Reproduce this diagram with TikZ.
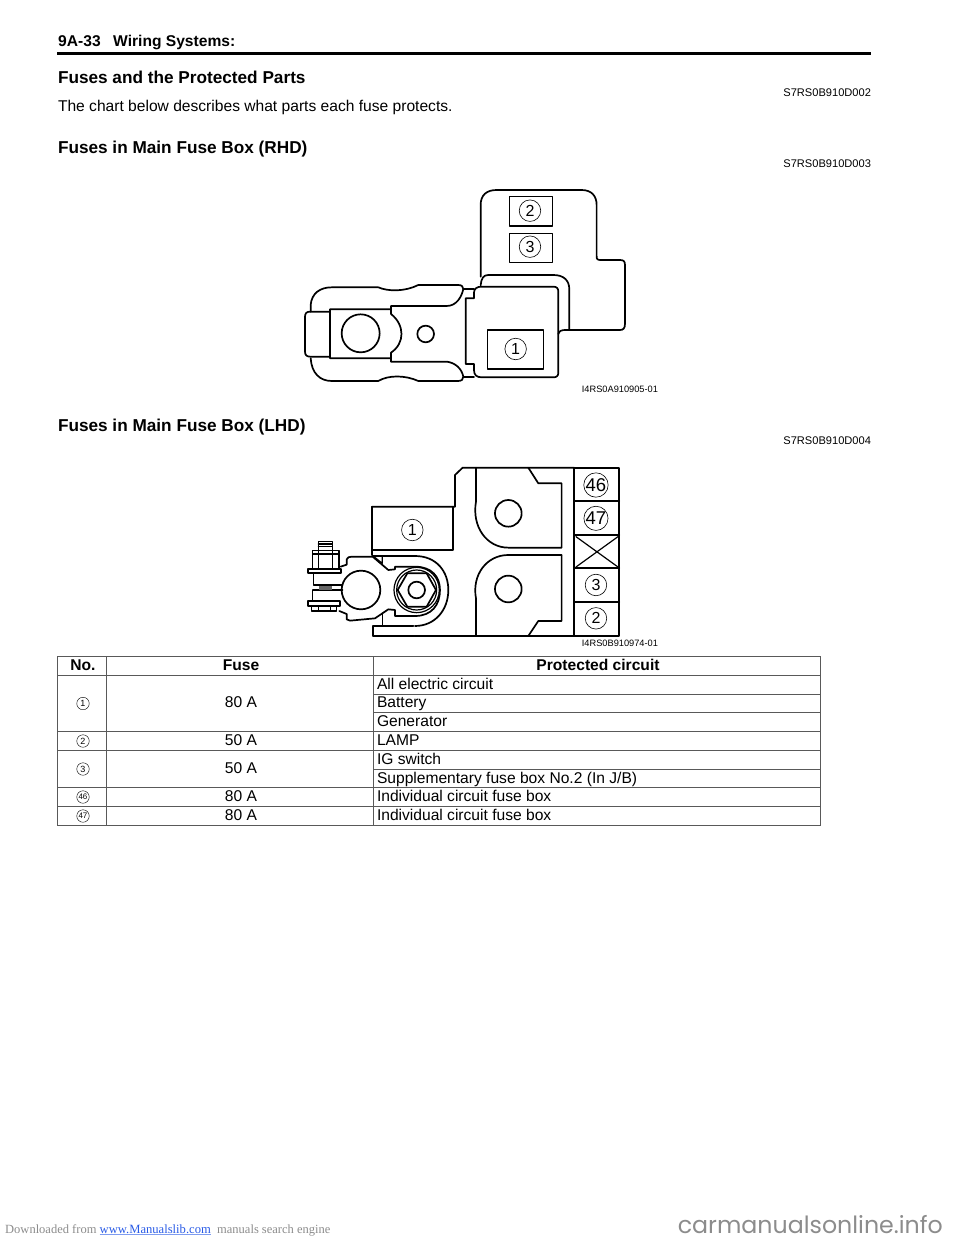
\documentclass[tikz,border=0pt]{standalone}
\usepackage{fontspec}
\setmainfont{Liberation Sans}
\newfontfamily\serifface{Liberation Serif}
\newfontfamily\openface{Poppins}
\definecolor{tabline}{gray}{0.35}
\definecolor{footgray}{gray}{0.55}
\definecolor{linkblue}{RGB}{40,90,230}
\tikzset{
  txt/.style={anchor=base west,inner sep=0pt,outer sep=0pt,font=\fontsize{15.6}{15.6}\selectfont},
  headtxt/.style={anchor=base west,inner sep=0pt,outer sep=0pt,font=\fontsize{17.2}{17.2}\selectfont\bfseries},
  codetxt/.style={anchor=base east,inner sep=0pt,outer sep=0pt,font=\fontsize{11.1}{11.1}\selectfont},
  captxt/.style={anchor=base east,inner sep=0pt,outer sep=0pt,font=\fontsize{9.25}{9.25}\selectfont},
  celltxt/.style={anchor=base west,inner sep=0pt,outer sep=0pt,font=\fontsize{15.6}{15.6}\selectfont},
  cellmid/.style={anchor=base,inner sep=0pt,outer sep=0pt,font=\fontsize{15.6}{15.6}\selectfont},
  cellhead/.style={anchor=base,inner sep=0pt,outer sep=0pt,font=\fontsize{15.6}{15.6}\selectfont\bfseries},
  bignum/.style={circle,draw,line width=.6pt,minimum size=21.5pt,inner sep=0pt,font=\fontsize{16}{16}\selectfont},
  widenum/.style={circle,draw,line width=.6pt,minimum size=22.5pt,inner sep=0pt,font=\fontsize{18.5}{18.5}\selectfont},
  smallnum/.style={circle,draw,line width=.4pt,minimum size=12.5pt,inner sep=0pt,font=\fontsize{9}{9}\selectfont},
  tinynum/.style={circle,draw,line width=.4pt,minimum size=12.5pt,inner sep=0pt,font=\fontsize{8}{8}\selectfont},
  heavy/.style={line width=1.7pt,line join=round,line cap=round},
  medium/.style={line width=1.2pt,line join=round,line cap=round},
  fine/.style={line width=.8pt,line join=round},
  grid/.style={line width=1pt,color=tabline},
}
\begin{document}
\begin{tikzpicture}[x=1pt,y=-1pt]
\useasboundingbox (0,0) rectangle (960,1242);
% page header
\node[anchor=base west,inner sep=0pt,font=\fontsize{15.6}{15.6}\selectfont\bfseries] (pagehead) at (58,46) {9A-33\hspace{.8em}Wiring Systems:};
\draw[line width=3pt] (57,53) -- (871,53);
\node[headtxt] (h1) at (58,83) {Fuses and the Protected Parts};
\node[codetxt] (c1) at (871,96) {S7RS0B910D002};
\node[txt] (body) at (58,111.5) {The chart below describes what parts each fuse protects.};
\node[headtxt] (h2) at (58,153) {Fuses in Main Fuse Box (RHD)};
\node[codetxt] (c2) at (871,167) {S7RS0B910D003};
\node[headtxt] (h3) at (58,431) {Fuses in Main Fuse Box (LHD)};
\node[codetxt] (c3) at (871,444) {S7RS0B910D004};

% RHD diagram (coordinates of the 3x crop)
\begin{scope}[shift={(290,180)},x=0.3333pt,y=-0.3333pt]
\draw[heavy] (572,290) -- (572,75) .. controls (572,45) and (590,30) .. (620,30) -- (875,30) .. controls (905,30) and (920,48) .. (920,75) -- (920,228) .. controls (920,238) and (922,240) .. (932,240) -- (990,240) .. controls (1002,240) and (1005,245) .. (1005,255) -- (1005,432) .. controls (1005,445) and (1000,450) .. (990,450) -- (828,450) .. controls (815,450) and (808,452) .. (805,462);
\draw[heavy] (572,316) .. controls (574,295) and (580,285) .. (595,285) -- (790,285) .. controls (820,285) and (838,300) .. (838,328) -- (838,450);
\draw[heavy] (527,355) -- (552,355) -- (552,338) .. controls (552,325) and (562,320) .. (575,320) -- (790,320) .. controls (800,320) and (805,325) .. (805,335) -- (805,578) .. controls (805,588) and (800,592) .. (790,592) -- (575,592) .. controls (560,592) and (552,585) .. (552,570) -- (552,552) -- (527,552) -- cycle;
\draw[heavy] (62,395) -- (62,375) .. controls (65,340) and (90,322) .. (125,322) -- (265,322) .. controls (295,335) and (345,335) .. (385,315) -- (505,315) .. controls (515,315) and (520,320) .. (520,327) .. controls (515,350) and (500,378) .. (470,378) -- (303,378) -- (303,388) -- (120,388) -- (120,535) -- (303,535);
\draw[heavy] (303,388) -- (303,402) .. controls (345,435) and (345,490) .. (303,518) -- (303,545) -- (470,545) .. controls (495,548) and (515,565) .. (520,590) .. controls (520,598) and (515,603) .. (505,603) -- (385,603) .. controls (345,585) and (295,585) .. (265,603) -- (125,603) .. controls (90,603) and (65,580) .. (62,535);
\draw[heavy] (120,395) -- (60,395) .. controls (50,395) and (45,400) .. (45,410) -- (45,515) .. controls (45,525) and (50,530) .. (60,530) -- (120,530);
\draw[heavy] (520,327) -- (552,327) (520,590) -- (552,590);
\draw[heavy] (212,460) circle (57);
\draw[heavy] (407,462) circle (25);
\draw[medium] (658,50) rectangle (787,138);
\draw[medium] (658,160) rectangle (787,247);
\draw[medium] (592,450) rectangle (760,567);
\node[bignum] (r2) at (720,92) {2};
\node[bignum] (r3) at (720,200) {3};
\node[bignum] (r1) at (677,507) {1};
\end{scope}
\node[captxt] (cap1) at (658,392) {I4RS0A910905-01};

% LHD diagram
\begin{scope}[shift={(290,455)},x=0.3333pt,y=-0.3333pt]
\draw[heavy] (853,38) rectangle (988,543);
\foreach \yy in {138,240,340,440} \draw[heavy] (853,\yy) -- (988,\yy);
\draw[medium] (858,245) -- (984,336) (984,245) -- (858,336);
\draw[heavy] (247,155) -- (495,155) -- (495,60) -- (518,38) -- (853,38);
\draw[heavy] (247,155) -- (247,300);
\draw[heavy] (247,285) -- (490,285) -- (490,155);
\draw[heavy] (558,38) -- (558,140) .. controls (545,215) and (590,278) .. (655,278) -- (815,278) -- (815,85) -- (745,85) -- (715,38);
\draw[heavy] (815,300) -- (655,300) .. controls (590,300) and (545,360) .. (558,430) -- (558,543);
\draw[heavy] (815,300) -- (815,498) -- (745,498) -- (715,543);
\draw[heavy] (655,175) circle (40);
\draw[heavy] (655,402) circle (40);
\draw[heavy] (250,543) -- (853,543);
\draw[heavy] (250,543) -- (250,512) -- (370,512);
\end{scope}
% terminal
\begin{scope}[shift={(300,530)},x=0.3333pt,y=-0.3333pt]
\draw[medium] (55,35) rectangle (97,62) (55,42) -- (97,42) (55,50) -- (97,50);
\draw[medium] (38,62) rectangle (117,118) (55,62) -- (55,118) (97,62) -- (97,118) (38,72) -- (117,72);
\draw[heavy] (25,118) rectangle (122,130);
\draw[medium] (40,130) -- (40,165) -- (128,165) (38,180) -- (128,180) (38,180) -- (38,212);
\fill[black!60] (58,168) rectangle (97,179);
\draw[heavy] (25,213) rectangle (120,228);
\draw[medium] (35,228) rectangle (110,243) (55,228) -- (55,243) (92,228) -- (92,243);
\draw[heavy] (122,110) -- (140,104) -- (140,88) .. controls (142,82) and (148,80) .. (155,80) -- (218,80) -- (265,120) -- (285,118) -- (285,110) -- (345,110) .. controls (395,110) and (420,140) .. (420,180) .. controls (420,225) and (395,258) .. (345,258) -- (285,258) -- (285,240) -- (265,238) -- (225,265) -- (150,272) -- (140,268) -- (140,252) -- (118,243);
\draw[heavy] (217,78) -- (345,78) .. controls (410,78) and (445,125) .. (445,180) .. controls (445,240) and (405,288) .. (345,288);
\draw[medium] (222,80) -- (247,100) -- (247,80);
\draw[medium] (247,250) -- (247,288);
\draw[heavy] (183,180) circle (58);
\draw[medium] (350,180) circle (68);
\draw[medium] (350,180) circle (60);
\draw[heavy] (293,180) -- (322,130) -- (380,130) -- (408,180) -- (380,230) -- (322,230) -- cycle;
\draw[heavy] (350,180) circle (25);
\end{scope}
\begin{scope}[shift={(290,455)},x=0.3333pt,y=-0.3333pt]
\node[bignum] (l1) at (367,225) {1};
\node[widenum] (l46) at (918,90) {46};
\node[widenum] (l47) at (918,190) {47};
\node[bignum] (l3) at (918,390) {3};
\node[bignum] (l2) at (918,490) {2};
\end{scope}
\node[captxt] (cap2) at (658,646) {I4RS0B910974-01};

% table
\draw[grid] (57.5,656) rectangle (820,825);
\draw[grid] (106.5,656) -- (106.5,825) (373.5,656) -- (373.5,825);
\draw[grid] (57.5,675) -- (820,675) (57.5,731.5) -- (820,731.5) (57.5,750) -- (820,750) (57.5,787.5) -- (820,787.5) (57.5,806.5) -- (820,806.5);
\draw[grid] (373.5,694) -- (820,694) (373.5,712.5) -- (820,712.5) (373.5,769) -- (820,769);
\node[cellhead] (t0a) at (83,670) {No.};
\node[cellhead] (t0b) at (241,670) {Fuse};
\node[cellhead] (t0c) at (598,670) {Protected circuit};
\node[smallnum] (n1) at (83,703.5) {1};
\node[smallnum] (n2) at (83,741) {2};
\node[smallnum] (n3) at (83,769) {3};
\node[tinynum] (n46) at (83,797) {46};
\node[tinynum] (n47) at (83,816) {47};
\node[cellmid] (f1) at (241,707.5) {80 A};
\node[cellmid] (f2) at (241,745.5) {50 A};
\node[cellmid] (f3) at (241,773) {50 A};
\node[cellmid] (f46) at (241,801.5) {80 A};
\node[cellmid] (f47) at (241,820.5) {80 A};
\node[celltxt] (p1) at (377,689) {All electric circuit};
\node[celltxt] (p2) at (377,707.5) {Battery};
\node[celltxt] (p3) at (377,726) {Generator};
\node[celltxt] (p4) at (377,745.5) {LAMP};
\node[celltxt] (p5) at (377,764) {IG switch};
\node[celltxt] (p6) at (377,783) {Supplementary fuse box No.2 (In J/B)};
\node[celltxt] (p7) at (377,801.5) {Individual circuit fuse box};
\node[celltxt] (p8) at (377,820.5) {Individual circuit fuse box};

% footer
\node[anchor=base west,inner sep=0pt,text=footgray,font=\fontsize{12.5}{12.5}\selectfont\serifface] (fa) at (5,1233) {Downloaded from};
\node[anchor=base west,inner sep=0pt,text=linkblue,font=\fontsize{12.6}{12.6}\selectfont\serifface] (fb) at (99.5,1233) {www.Manualslib.com};
\draw[linkblue!60,line width=.8pt] (fb.base west)++(0,1.5) -- ++(111.5,0);
\node[anchor=base west,inner sep=0pt,text=footgray,font=\fontsize{12.5}{12.5}\selectfont\serifface] (fc) at (217,1233) {manuals search engine};
\node[anchor=base east,inner sep=0pt,text=footgray,font=\fontsize{23.7}{23.7}\selectfont\openface] (fd) at (943,1233) {carmanualsonline.info};
\end{tikzpicture}
\end{document}
